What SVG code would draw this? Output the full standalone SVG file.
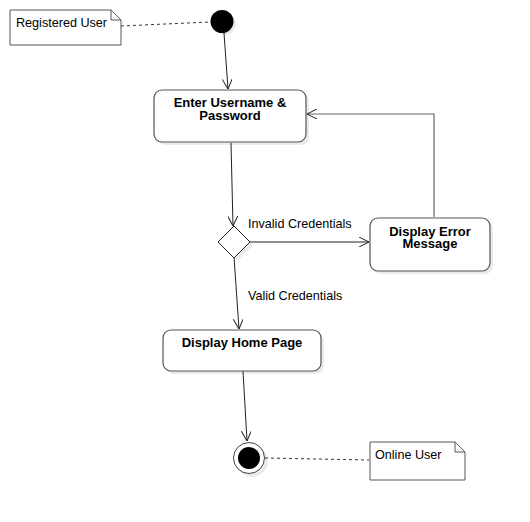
<svg xmlns="http://www.w3.org/2000/svg" width="530" height="522" viewBox="0 0 530 522">
<defs>
<style>
.box{fill:#fff;stroke:#555;stroke-width:1.2}
.sh{fill:#000;opacity:0.08}
.note{fill:#fff;stroke:#555;stroke-width:1}
.lbl{font-family:"Liberation Sans",Arial,sans-serif;font-size:12.6px;fill:#000}
.b{font-weight:bold;font-size:13px;text-anchor:middle}
.ln{fill:none;stroke:#222;stroke-width:1}
.ln2{fill:none;stroke:#666;stroke-width:1.2}
.dash{fill:none;stroke:#333;stroke-width:1;stroke-dasharray:3,3}
</style>
<marker id="arr" viewBox="0 0 10 10" refX="10" refY="5" markerWidth="10" markerHeight="10" markerUnits="userSpaceOnUse" orient="auto">
<path d="M0,0 L10,5 L0,10" fill="none" stroke="#222" stroke-width="1"/>
</marker>
</defs>
<rect width="530" height="522" fill="#fff"/>
<g id="connectors">
<path class="dash" d="M121,26 L210,22"/>
<path class="ln" d="M224,33 L228,89" marker-end="url(#arr)"/>
<path class="ln" d="M231,143 L233,226" marker-end="url(#arr)"/>
<path class="ln" d="M250,242 L369,242" marker-end="url(#arr)"/>
<path class="ln2" d="M434,217 L434,114 L307,114" marker-end="url(#arr)"/>
<path class="ln" d="M234,257 L239,329" marker-end="url(#arr)"/>
<path class="ln" d="M243,371 L247,441" marker-end="url(#arr)"/>
<path class="dash" d="M265,458 L369,460"/>
</g>
<g id="note-registered">
<path class="note" d="M10,10 L111,10 L121,20 L121,45 L10,45 Z M111,10 L111,20 L121,20"/>
<text class="lbl" x="16" y="27">Registered User</text>
</g>
<g id="start">
<circle cx="225" cy="24" r="11" class="sh"/>
<circle cx="222" cy="21.5" r="11.5" fill="#000"/>
</g>
<g id="enter">
<rect x="157" y="93" width="152" height="52" rx="8" class="sh"/>
<rect x="154" y="90" width="152" height="52" rx="8" class="box"/>
<text class="lbl b" x="230" y="107">Enter Username &amp;</text>
<text class="lbl b" x="230" y="119.5">Password</text>
</g>
<g id="decision">
<path d="M237,229 L253,245 L237,261 L221,245 Z" class="sh"/>
<path d="M234,226 L250,242 L234,258 L218,242 Z" fill="#fff" stroke="#222" stroke-width="1"/>
<text class="lbl" x="248" y="228">Invalid Credentials</text>
<text class="lbl" x="248" y="300">Valid Credentials</text>
</g>
<g id="error">
<rect x="373" y="221" width="120" height="53" rx="8" class="sh"/>
<rect x="370" y="218" width="120" height="53" rx="8" class="box"/>
<text class="lbl b" x="430" y="236">Display Error</text>
<text class="lbl b" x="430" y="247.5">Message</text>
</g>
<g id="home">
<rect x="166" y="333" width="158" height="41" rx="8" class="sh"/>
<rect x="163" y="330" width="158" height="41" rx="8" class="box"/>
<text class="lbl b" x="242" y="347">Display Home Page</text>
</g>
<g id="end">
<circle cx="252" cy="461" r="16" class="sh"/>
<circle cx="249" cy="458" r="15.5" fill="#fff" stroke="#444" stroke-width="1"/>
<circle cx="249" cy="458" r="11" fill="#000"/>
</g>
<g id="note-online">
<path class="note" d="M370,442 L455,442 L465,452 L465,480 L370,480 Z M455,442 L455,452 L465,452"/>
<text class="lbl" x="375" y="459">Online User</text>
</g>
</svg>
